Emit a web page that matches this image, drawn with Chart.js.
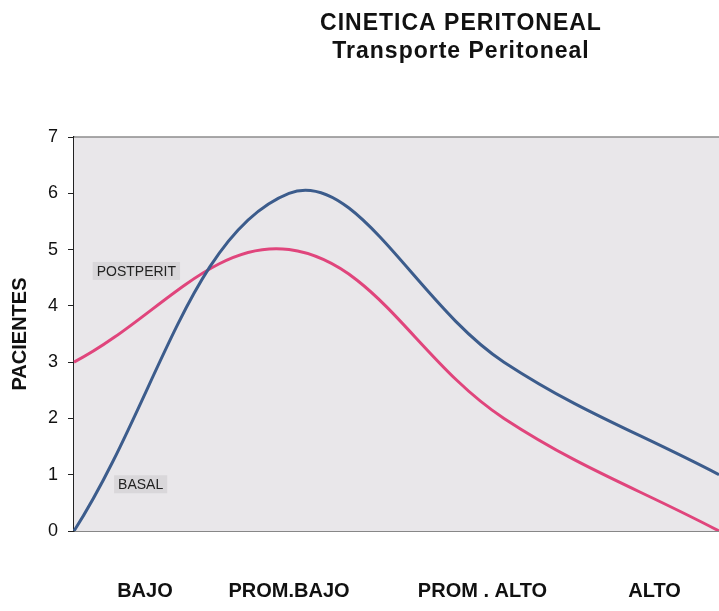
<!DOCTYPE html>
<html>
<head>
<meta charset="utf-8">
<script src="https://cdn.jsdelivr.net/npm/chart.js@4"></script>
<style>
  html, body { margin: 0; padding: 0; background: #fff; }
  #wrap { width: 719px; height: 611px; position: relative; }
</style>
</head>
<body>
<div id="wrap"><canvas id="chart"></canvas></div>
<script>
// data
const categories = ['BAJO', 'PROM.BAJO', 'PROM . ALTO', 'ALTO'];
const basal = [0, 6, 3, 1];
const postperit = [3, 5, 2, 0];
const titleLines = ['CINETICA PERITONEAL', 'Transporte Peritoneal'];
const yTitle = 'PACIENTES';

// where the category names sit, in category units (they are not under the points)
const catLabelPos = [0.33, 1.0, 1.9, 2.7];

// in-plot series labels
const seriesLabels = [
    { text: 'POSTPERIT', x: 0.29, y: 4.62 },
    { text: 'BASAL', x: 0.31, y: 0.83 }
];

const plotDecor = {
    id: 'plotDecor',
    beforeDatasetsDraw(chart) {
        const { ctx, chartArea: a } = chart;
        ctx.save();
        ctx.fillStyle = '#e9e7ea';
        ctx.fillRect(a.left, a.top, a.right - a.left, a.bottom - a.top);
        ctx.strokeStyle = '#8c8c8c';
        ctx.lineWidth = 1.5;
        ctx.beginPath();
        ctx.moveTo(a.left, a.top);
        ctx.lineTo(a.right, a.top);
        ctx.stroke();
        ctx.restore();
    },
    afterDatasetsDraw(chart) {
        const { ctx } = chart;
        const xs = chart.scales.x, ys = chart.scales.y;
        ctx.save();
        ctx.font = '14px Arial, "Liberation Sans", sans-serif';
        ctx.textAlign = 'center';
        ctx.textBaseline = 'middle';
        seriesLabels.forEach(l => {
            const px = xs.getPixelForValue(l.x);
            const py = ys.getPixelForValue(l.y);
            const w = ctx.measureText(l.text).width + 8;
            ctx.fillStyle = '#d9d7da';
            ctx.fillRect(px - w / 2, py - 9, w, 18);
            ctx.fillStyle = '#222';
            ctx.fillText(l.text, px, py + 1);
        });
        ctx.restore();
    },
    afterDraw(chart) {
        const { ctx, chartArea: a } = chart;
        const xs = chart.scales.x;
        ctx.save();
        ctx.fillStyle = '#111';
        ctx.textAlign = 'center';
        ctx.textBaseline = 'alphabetic';
        // titles
        const tx = a.left + 0.6 * (a.right - a.left);
        ctx.font = 'bold 23px Arial, "Liberation Sans", sans-serif';
        ctx.letterSpacing = '1px';
        ctx.fillText(titleLines[0], tx, 30);
        ctx.fillText(titleLines[1], tx, 58);
        ctx.letterSpacing = '0px';
        // category names
        ctx.font = 'bold 20px Arial, "Liberation Sans", sans-serif';
        categories.forEach((c, i) => {
            ctx.fillText(c, xs.getPixelForValue(catLabelPos[i]), 597);
        });
        ctx.restore();
    }
};

new Chart(document.getElementById('chart'), {
    type: 'line',
    data: {
        labels: categories,
        datasets: [
            {
                label: 'BASAL',
                data: basal,
                borderColor: '#3c5c8c',
                borderWidth: 3,
                pointRadius: 0,
                tension: 0.38,
                fill: false
            },
            {
                label: 'POSTPERIT',
                data: postperit,
                borderColor: '#e0457c',
                borderWidth: 3,
                pointRadius: 0,
                tension: 0.38,
                fill: false
            }
        ]
    },
    options: {
        responsive: true,
        maintainAspectRatio: false,
        animation: false,
        layout: { padding: { top: 137, left: 0, right: 0, bottom: 0 } },
        plugins: {
            legend: { display: false },
            tooltip: { enabled: false }
        },
        scales: {
            x: {
                ticks: { display: false },
                grid: { display: false },
                border: { color: '#111', width: 1.5 },
                afterFit(scale) { scale.height = 80; }
            },
            y: {
                min: 0,
                max: 7,
                ticks: {
                    stepSize: 1,
                    color: '#111',
                    padding: 10,
                    font: { family: 'Arial, "Liberation Sans", sans-serif', size: 18 }
                },
                grid: { drawOnChartArea: false, tickLength: 6, color: '#222' },
                border: { color: '#222', width: 1.5 },
                title: {
                    display: true,
                    text: yTitle,
                    color: '#111',
                    padding: { top: 8, bottom: 0 },
                    font: { family: 'Arial, "Liberation Sans", sans-serif', size: 20, weight: 'bold' }
                },
                afterFit(scale) { scale.width = 74; }
            }
        }
    },
    plugins: [plotDecor]
});
</script>
</body>
</html>
